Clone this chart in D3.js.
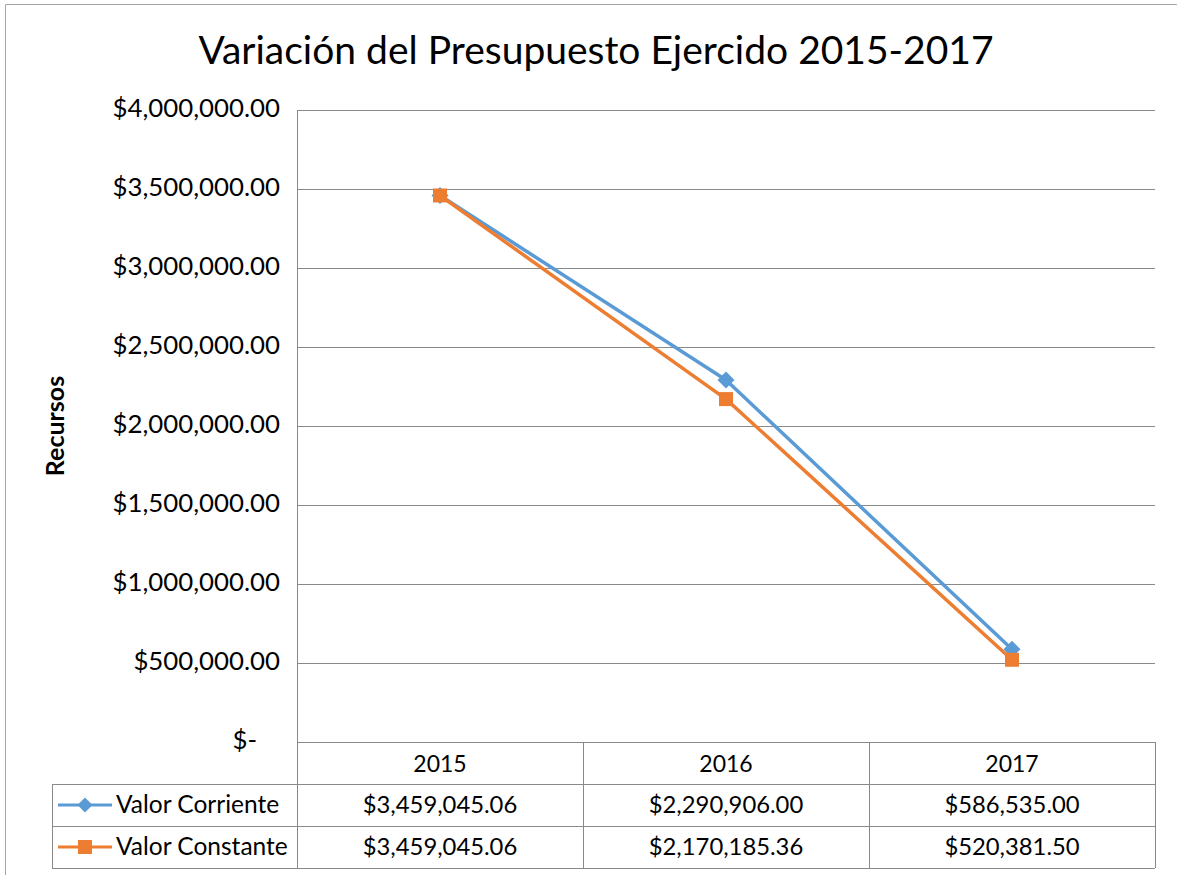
<!DOCTYPE html>
<html>
<head>
<meta charset="utf-8">
<script src="https://cdn.jsdelivr.net/npm/d3@7"></script>
<style>
  html, body { margin: 0; padding: 0; background: #fff; }
  svg { display: block; }
  text { font-family: Lato, "Open Sans", sans-serif; fill: #000; }
</style>
</head>
<body>
<svg id="chart" width="1177" height="875"></svg>
<script>
const title = "Variación del Presupuesto Ejercido 2015-2017";
const yAxisTitle = "Recursos";
const categories = ["2015", "2016", "2017"];
const seriesNames = ["Valor Corriente", "Valor Constante"];
const valorCorriente = [3459045.06, 2290906.00, 586535.00];
const valorConstante = [3459045.06, 2170185.36, 520381.50];
const yTicks = [0, 500000, 1000000, 1500000, 2000000, 2500000, 3000000, 3500000, 4000000];
const colors = ["#5B9BD5", "#ED7D31"];

const svg = d3.select("#chart");
const W = 1177, H = 875;
const plot = { left: 297, right: 1155, top: 110, bottom: 742 };
const rowH = 42;

// outer frame
svg.append("line").attr("x1", 5.5).attr("x2", 5.5).attr("y1", 4.5).attr("y2", H).attr("stroke", "#a6a6a6").attr("stroke-width", 1);
svg.append("line").attr("x1", 5.5).attr("x2", W).attr("y1", 4.5).attr("y2", 4.5).attr("stroke", "#a6a6a6").attr("stroke-width", 1);

const x = d3.scaleBand().domain(categories).range([plot.left, plot.right]).padding(0);
const y = d3.scaleLinear().domain([0, 4000000]).range([plot.bottom, plot.top]);

// gridlines
svg.append("g").selectAll("line").data(yTicks.filter(d => d > 0)).join("line")
  .attr("x1", plot.left).attr("x2", plot.right)
  .attr("y1", d => Math.round(y(d)) + 0.5).attr("y2", d => Math.round(y(d)) + 0.5)
  .attr("stroke", "#898989").attr("stroke-width", 1);

// left axis line
svg.append("line").attr("x1", plot.left + 0.5).attr("x2", plot.left + 0.5)
  .attr("y1", plot.top).attr("y2", plot.bottom + 3 * rowH)
  .attr("stroke", "#898989");

// y tick labels
const fmt = d3.format(",.2f");
svg.append("g").selectAll("text").data(yTicks).join("text")
  .attr("x", d => d === 0 ? 257 : 280)
  .attr("y", d => y(d) + 7)
  .attr("text-anchor", "end")
  .attr("font-size", 25.8)
  .text(d => d === 0 ? "$-" : "$" + fmt(d));

// y axis title
svg.append("text")
  .attr("transform", `translate(64,${(plot.top + plot.bottom) / 2}) rotate(-90)`)
  .attr("text-anchor", "middle")
  .attr("font-size", 25).attr("font-weight", "bold")
  .text(yAxisTitle);

// title
svg.append("text").attr("x", 596).attr("y", 64).attr("text-anchor", "middle")
  .attr("font-size", 39).text(title);

// diamond (rotated square) marker
const diamond = r => `M0,${-r}L${r},0L0,${r}L${-r},0Z`;

// data table
const tableTop = plot.bottom;
const tableLeft = 52;
const gray = "#898989";
const tg = svg.append("g");
tg.append("line").attr("x1", plot.left).attr("x2", plot.right).attr("y1", tableTop + 0.5).attr("y2", tableTop + 0.5).attr("stroke", gray);
[1, 2, 3].forEach(i => {
  tg.append("line").attr("x1", tableLeft).attr("x2", plot.right)
    .attr("y1", tableTop + i * rowH + 0.5).attr("y2", tableTop + i * rowH + 0.5).attr("stroke", gray);
});
categories.forEach(c => {
  const xr = x(c) + x.bandwidth();
  tg.append("line").attr("x1", Math.round(xr) + 0.5).attr("x2", Math.round(xr) + 0.5)
    .attr("y1", tableTop).attr("y2", tableTop + 3 * rowH).attr("stroke", gray);
});
tg.append("line").attr("x1", tableLeft + 0.5).attr("x2", tableLeft + 0.5)
  .attr("y1", tableTop + rowH).attr("y2", tableTop + 3 * rowH).attr("stroke", gray);

tg.selectAll("text.hdr").data(categories).join("text").attr("class", "hdr")
  .attr("x", d => x(d) + x.bandwidth() / 2).attr("y", tableTop + 30)
  .attr("text-anchor", "middle").attr("font-size", 23).text(d => d);

const seriesData = [valorCorriente, valorConstante];
const money = d => "$" + fmt(d);
seriesData.forEach((vals, si) => {
  const rowY = tableTop + (si + 1) * rowH;
  tg.selectAll("text.v" + si).data(vals).join("text").attr("class", "v" + si)
    .attr("x", (d, i) => x(categories[i]) + x.bandwidth() / 2).attr("y", rowY + 29)
    .attr("text-anchor", "middle").attr("font-size", 23.8).text(d => money(d));
  const ly = rowY + rowH / 2;
  tg.append("line").attr("x1", 58).attr("x2", 112).attr("y1", ly).attr("y2", ly)
    .attr("stroke", colors[si]).attr("stroke-width", 3);
  if (si === 0) {
    tg.append("path").attr("d", diamond(7.5)).attr("transform", `translate(85,${ly})`).attr("fill", colors[si]);
  } else {
    tg.append("rect").attr("x", 85 - 7).attr("y", ly - 7).attr("width", 14).attr("height", 14).attr("fill", colors[si]);
  }
  tg.append("text").attr("x", 116).attr("y", rowY + 29).attr("font-size", 24.5).text(seriesNames[si]);
});

const line = d3.line().x((d, i) => x(categories[i]) + x.bandwidth() / 2).y(d => y(d));
seriesData.forEach((vals, si) => {
  svg.append("path").datum(vals).attr("d", line).attr("fill", "none")
    .attr("stroke", colors[si]).attr("stroke-width", 3.5).attr("stroke-linejoin", "round");
});
svg.append("g").selectAll("path").data(valorCorriente).join("path")
  .attr("d", diamond(8.5))
  .attr("transform", (d, i) => `translate(${x(categories[i]) + x.bandwidth() / 2},${y(d)})`)
  .attr("fill", colors[0]);
svg.append("g").selectAll("rect").data(valorConstante).join("rect")
  .attr("x", (d, i) => x(categories[i]) + x.bandwidth() / 2 - 7)
  .attr("y", d => y(d) - 7).attr("width", 14).attr("height", 14)
  .attr("fill", colors[1]);
</script>
</body>
</html>
